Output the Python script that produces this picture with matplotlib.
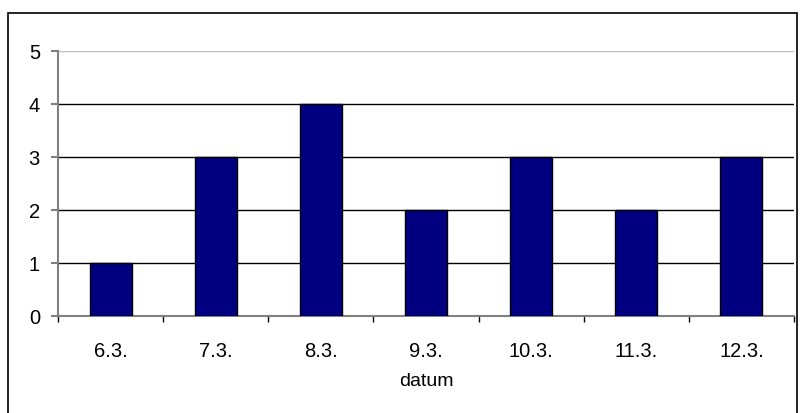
import matplotlib.pyplot as plt
from matplotlib.patches import Rectangle

plt.rcParams['font.family'] = ['Liberation Sans', 'DejaVu Sans']

dates = ['6.3.', '7.3.', '8.3.', '9.3.', '10.3.', '11.3.', '12.3.']
counts = [1, 3, 4, 2, 3, 2, 3]

W, H = 800, 414
fig = plt.figure(figsize=(8, 4.14), dpi=100)

# outer chart border
fig.patches.append(Rectangle((8 / W, -0.01), (797 - 8) / W, 1 - 14 / H + 0.01,
                             transform=fig.transFigure, fill=False,
                             edgecolor='black', linewidth=1.2))

left, right, top, bottom = 58, 794, 51.5, 317
ax = fig.add_axes([left / W, 1 - bottom / H, (right - left) / W, (bottom - top) / H])

x = range(len(dates))
ax.bar(x, counts, width=0.4, color='#000080', edgecolor='black', linewidth=1, zorder=3)

ax.set_xlim(-0.5, len(dates) - 0.5)
ax.set_ylim(0, 5)
ax.set_yticks(range(6))
for y in range(1, 5):
    ax.axhline(y, color='black', linewidth=1, zorder=1)
ax.axhline(5, color='#c0c0c0', linewidth=1, zorder=1)

ax.set_xticks(list(x))
ax.set_xticklabels(dates)
ax.tick_params(axis='x', length=0, pad=18, labelsize=14.5)
ax.set_xticks([i - 0.5 for i in range(len(dates) + 1)], minor=True)
ax.tick_params(axis='x', which='minor', length=4, direction='out', color='black', width=1)
ax.tick_params(axis='y', length=5, direction='out', color='#808080', labelsize=14.5, pad=8, width=1.5)

for side in ['top', 'right']:
    ax.spines[side].set_visible(False)
for side in ['left', 'bottom']:
    ax.spines[side].set_color('#808080')
    ax.spines[side].set_linewidth(1.5)

ax.set_xlabel('datum', fontsize=14, labelpad=9)

fig.savefig('out.png', dpi=100)
